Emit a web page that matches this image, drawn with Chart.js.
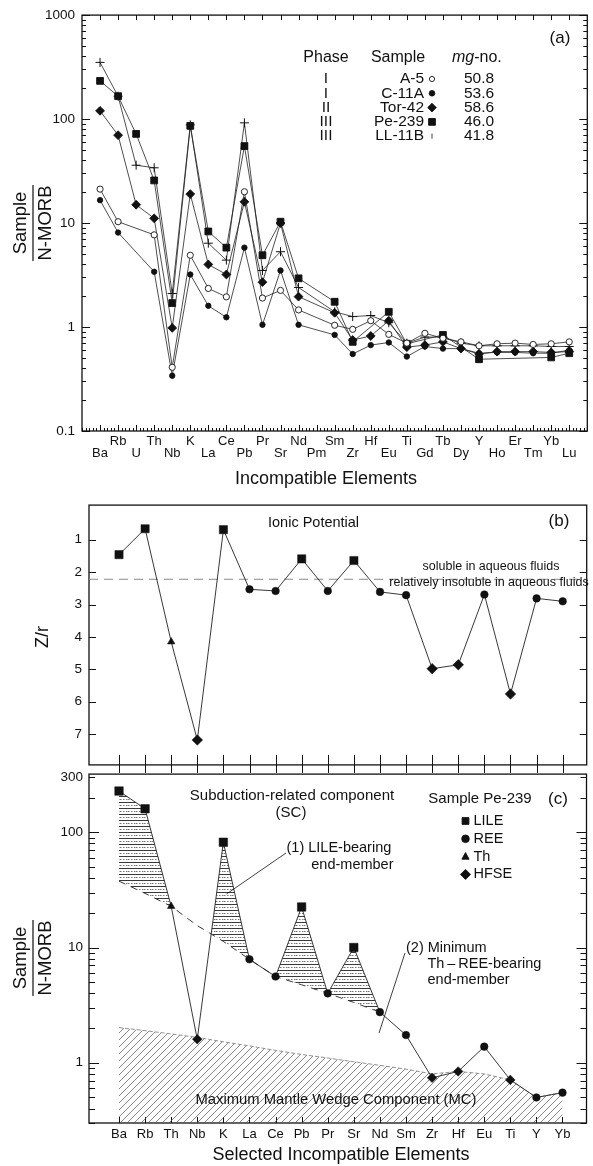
<!DOCTYPE html>
<html>
<head>
    <title>Incompatible Element Patterns</title>
    <script src="https://cdn.jsdelivr.net/npm/chart.js"></script>
    <style>
        body { margin: 0; background: #fff; }
        #page { position: relative; width: 593px; height: 1166px; overflow: hidden; }
        canvas { position: absolute; left: 0; }
    </style>
</head>
<body>
<div id="page">
    <canvas id="chartA" width="593" height="492" style="top:0"></canvas>
    <canvas id="chartB" width="593" height="290" style="top:490px"></canvas>
    <canvas id="chartC" width="593" height="406" style="top:760px"></canvas>
</div>

<script>
    // ---- panel (a): N-MORB normalised spidergram, five samples ----
    const elementsA = ['Ba', 'Rb', 'U', 'Th', 'Nb', 'K', 'La', 'Ce', 'Pb', 'Pr', 'Sr', 'Nd', 'Pm', 'Sm',
        'Zr', 'Hf', 'Eu', 'Ti', 'Gd', 'Tb', 'Dy', 'Y', 'Ho', 'Er', 'Tm', 'Yb', 'Lu'];
    const sampleA5 = [21.2, 10.3, null, 7.7, 0.41, 4.9, 2.35, 1.95, 20, 1.9, 2.25, 1.46, null, 1.04,
        0.95, 1.15, 0.85, 0.70, 0.87, 0.78, 0.72, 0.66, 0.69, 0.70, 0.68, 0.69, 0.72];
    const sampleC11A = [16.6, 8.1, null, 3.4, 0.34, 3.2, 1.6, 1.24, 5.8, 1.05, 3.5, 1.05, null, 0.84,
        0.55, 0.67, 0.71, 0.52, 0.65, 0.62, 0.62, 0.56, 0.57, 0.57, 0.56, 0.56, 0.60];
    const sampleTor42 = [120, 70, 15, 11.1, 0.98, 19, 4.0, 3.2, 16, 2.7, 10, 1.96, null, 1.37,
        0.75, 0.82, 1.15, 0.64, 0.67, 0.72, 0.62, 0.55, 0.58, 0.58, 0.58, 0.57, 0.58];
    const samplePe239 = [233, 166, 72, 25.7, 1.7, 86, 8.3, 5.8, 55, 4.9, 10.3, 2.94, null, 1.75,
        0.72, null, 1.40, 0.69, null, 0.84, null, 0.49, null, null, null, 0.51, 0.56];
    const sampleLL11B = [351, 166, 36, 34, 2.1, 88, 6.4, 4.4, 92, 3.5, 5.3, 2.4, null, 1.4,
        1.26, 1.29, 1.1, 0.70, 0.80, 0.80, 0.70, 0.66, 0.66, 0.66, 0.66, 0.65, 0.65];
    const phases = ['I', 'I', 'II', 'III', 'III'];
    const sampleNames = ['A-5', 'C-11A', 'Tor-42', 'Pe-239', 'LL-11B'];
    const mgNumbers = ['50.8', '53.6', '58.6', '46.0', '41.8'];
    const yTicksA = [0.1, 1, 10, 100, 1000];

    // ---- panels (b) and (c): selected elements of sample Pe-239 ----
    const elementsBC = ['Ba', 'Rb', 'Th', 'Nb', 'K', 'La', 'Ce', 'Pb', 'Pr', 'Sr', 'Nd', 'Sm',
        'Zr', 'Hf', 'Eu', 'Ti', 'Y', 'Yb'];
    const groupsBC = ['LILE', 'LILE', 'Th', 'HFSE', 'LILE', 'REE', 'REE', 'LILE', 'REE', 'LILE', 'REE', 'REE',
        'HFSE', 'HFSE', 'REE', 'HFSE', 'REE', 'REE'];
    const ionicPotential = [1.46, 0.66, 4.15, 7.18, 0.69, 2.53, 2.58, 1.59, 2.58, 1.64, 2.61, 2.71,
        4.98, 4.86, 2.69, 5.76, 2.81, 2.90];
    const fluidBoundary = 2.22;
    const yTicksB = [1, 2, 3, 4, 5, 6, 7];

    const pe239Selected = [228, 160, 22.8, 1.6, 82, 7.9, 5.6, 22.5, 4.0, 10.0, 2.75, 1.74,
        0.74, 0.84, 1.38, 0.71, 0.50, 0.55];
    const thReeBaseline = [37.7, 29.5, 22.8, 15.5, 11.3, 7.9, 5.6, 4.75, 4.0, 3.34, 2.75];
    const mantleWedgeTop = [2.02, 1.9, 1.78, 1.66, 1.52, 1.4, 1.28, 1.18, 1.1, 1.02, 0.95, 0.88,
        0.8, 0.84, 0.8, 0.71, 0.50, 0.55];
    const yTicksC = [1, 10, 100, 300];

    const FONT = '"Liberation Sans", Arial, Helvetica, sans-serif';
    const INK = '#111';
    Chart.defaults.font.family = FONT;
    Chart.defaults.color = INK;

    const toPoints = vals => vals.map((v, i) => ({ x: i, y: v }));

    function logMarks(min, max) {
        const out = [];
        for (let e = Math.floor(Math.log10(min)); e <= Math.ceil(Math.log10(max)); e++) {
            for (let m = 1; m < 10; m++) {
                const v = m * Math.pow(10, e);
                if (v >= min * 0.999 && v <= max * 1.001) out.push({ v, major: m === 1 });
            }
        }
        return out;
    }

    function text(ctx, str, x, y, size, align, italic) {
        ctx.font = (italic ? 'italic ' : '') + size + 'px ' + FONT;
        ctx.textAlign = align || 'left';
        ctx.textBaseline = 'middle';
        ctx.fillText(str, x, y);
    }

    function marker(ctx, style, x, y, r, filled) {
        ctx.save();
        ctx.beginPath();
        if (style === 'circle') ctx.arc(x, y, r, 0, 2 * Math.PI);
        else if (style === 'rect') ctx.rect(x - r, y - r, 2 * r, 2 * r);
        else if (style === 'diamond') {
            ctx.moveTo(x, y - r); ctx.lineTo(x + r, y); ctx.lineTo(x, y + r); ctx.lineTo(x - r, y); ctx.closePath();
        } else if (style === 'triangle') {
            ctx.moveTo(x, y - r); ctx.lineTo(x + r * 0.9, y + r * 0.65); ctx.lineTo(x - r * 0.9, y + r * 0.65); ctx.closePath();
        } else if (style === 'bar') {
            ctx.moveTo(x, y - r); ctx.lineTo(x, y + r);
            ctx.strokeStyle = INK; ctx.lineWidth = 0.8; ctx.stroke();
            ctx.restore();
            return;
        }
        ctx.fillStyle = filled ? INK : '#fff';
        ctx.fill();
        ctx.strokeStyle = INK; ctx.lineWidth = 0.9;
        ctx.stroke();
        ctx.restore();
    }

    function fraction(ctx, cx, cy, size) {
        ctx.save();
        ctx.translate(cx, cy);
        ctx.rotate(-Math.PI / 2);
        ctx.font = size + 'px ' + FONT;
        ctx.textAlign = 'center';
        ctx.textBaseline = 'alphabetic';
        ctx.fillStyle = INK;
        ctx.fillText('Sample', 0, -7);
        ctx.fillText('N-MORB', 0, 18);
        ctx.fillRect(-38, -0.6, 76, 1.2);
        ctx.restore();
    }

    function hatch(kind) {
        const c = document.createElement('canvas');
        const g = c.getContext('2d');
        if (kind === 'horizontal') {
            c.width = 8; c.height = 6;
            g.strokeStyle = '#222'; g.lineWidth = 0.9;
            g.beginPath(); g.moveTo(0, 0.5); g.lineTo(8, 0.5); g.stroke();
            g.strokeStyle = '#666'; g.setLineDash([1.5, 1.5]);
            g.beginPath(); g.moveTo(0, 3.5); g.lineTo(8, 3.5); g.stroke();
        } else {
            c.width = 7; c.height = 7;
            g.strokeStyle = '#555'; g.lineWidth = 0.7;
            g.beginPath();
            g.moveTo(0, 7); g.lineTo(7, 0);
            g.moveTo(-1, 1); g.lineTo(1, -1);
            g.moveTo(6, 8); g.lineTo(8, 6);
            g.stroke();
        }
        return g.createPattern(c, 'repeat');
    }

    const noGrid = { grid: { display: false, drawTicks: false, tickLength: 0 }, border: { display: false } };
    const categoryTicks = list => scale => { scale.ticks = list.map((_, i) => ({ value: i })); };
    const fixedTicks = list => scale => { scale.ticks = list.map(v => ({ value: v })); };
    const baseOptions = {
        responsive: false,
        animation: false,
        events: [],
        plugins: { legend: { display: false }, tooltip: { enabled: false } },
        elements: { line: { tension: 0 } }
    };

    // ================= panel (a) =================
    const seriesA = [
        { label: 'A-5', values: sampleA5, style: 'circle', radius: 3.1, fill: '#fff' },
        { label: 'C-11A', values: sampleC11A, style: 'circle', radius: 2.7, fill: INK },
        { label: 'Tor-42', values: sampleTor42, style: 'rectRot', radius: 4.4, fill: INK },
        { label: 'Pe-239', values: samplePe239, style: 'rect', radius: 4.8, fill: INK },
        { label: 'LL-11B', values: sampleLL11B, style: 'cross', radius: 4.5, fill: INK }
    ];

    const frameA = {
        id: 'frameA',
        beforeDatasetsDraw(chart) {
            const { ctx, chartArea: a, scales: { x, y } } = chart;
            ctx.save();
            ctx.strokeStyle = INK;
            ctx.lineWidth = 1;
            ctx.beginPath();
            elementsA.forEach((e, i) => {
                const px = Math.round(x.getPixelForValue(i)) + 0.5;
                ctx.moveTo(px, a.bottom); ctx.lineTo(px, a.bottom - 6);
                ctx.moveTo(px, a.top); ctx.lineTo(px, a.top + 5);
            });
            for (let k = 0; k <= (x.max - x.min) * 5; k++) {
                const px = Math.round(x.getPixelForValue(x.min + k / 5)) + 0.5;
                ctx.moveTo(px, a.bottom); ctx.lineTo(px, a.bottom - 3);
            }
            logMarks(y.min, y.max).forEach(t => {
                const py = Math.round(y.getPixelForValue(t.v)) + 0.5;
                const len = t.major ? 8 : 4;
                ctx.moveTo(a.left, py); ctx.lineTo(a.left + len, py);
                ctx.moveTo(a.right, py); ctx.lineTo(a.right - len, py);
            });
            ctx.stroke();
            ctx.lineWidth = 1.3;
            ctx.strokeRect(a.left, a.top, a.right - a.left, a.bottom - a.top);
            ctx.restore();
        },
        afterDraw(chart) {
            const ctx = chart.ctx;
            ctx.save();
            ctx.fillStyle = INK;
            text(ctx, '(a)', 560, 38, 17, 'center');
            text(ctx, 'Phase', 326, 58, 16, 'center');
            text(ctx, 'Sample', 398, 58, 16, 'center');
            text(ctx, 'mg', 452, 58, 16, 'left', true);
            const w = ctx.measureText('mg').width;
            text(ctx, '-no.', 452 + w, 58, 16, 'left');
            const legendStyles = ['circle', 'circle', 'diamond', 'rect', 'bar'];
            const legendSizes = [2.6, 2.8, 4.3, 3.4, 2.6];
            sampleNames.forEach((name, i) => {
                const ry = 79 + i * 14.3;
                ctx.fillStyle = INK;
                text(ctx, phases[i], 326, ry, 15.5, 'center');
                text(ctx, name, 424, ry, 15.5, 'right');
                text(ctx, mgNumbers[i], 479, ry, 15.5, 'center');
                marker(ctx, legendStyles[i], 432, ry, legendSizes[i], i !== 0);
            });
            ctx.fillStyle = INK;
            text(ctx, 'Incompatible Elements', 326, 479, 18, 'center');
            fraction(ctx, 33, 223, 18.5);
            ctx.restore();
        }
    };

    new Chart(document.getElementById('chartA'), {
        type: 'line',
        data: {
            datasets: seriesA.map(s => ({
                label: s.label,
                data: toPoints(s.values),
                spanGaps: true,
                borderColor: '#222',
                borderWidth: 0.8,
                pointStyle: s.style,
                pointRadius: s.radius,
                pointBackgroundColor: s.fill,
                pointBorderColor: INK,
                pointBorderWidth: s.style === 'cross' ? 1 : 0.9
            }))
        },
        options: {
            ...baseOptions,
            layout: { padding: { top: 15, right: 4, left: 0, bottom: 0 } },
            scales: {
                x: {
                    type: 'linear', min: -1, max: 27, bounds: 'data', ...noGrid,
                    afterBuildTicks: categoryTicks(elementsA),
                    afterFit: s => { s.height = 61; },
                    ticks: {
                        autoSkip: false, maxRotation: 0, minRotation: 0, padding: 4,
                        font: { size: 13, lineHeight: 0.95 },
                        callback: v => (v % 2 === 0 ? ['', elementsA[v]] : [elementsA[v], ''])
                    }
                },
                y: {
                    type: 'logarithmic', min: 0.1, max: 1000, bounds: 'data', ...noGrid,
                    afterBuildTicks: fixedTicks(yTicksA),
                    afterFit: s => { s.width = 82; },
                    ticks: { padding: 7, font: { size: 13.5 }, callback: v => String(v) }
                }
            }
        },
        plugins: [frameA]
    });

    // ================= panel (b) =================
    const styleOf = { LILE: 'rect', REE: 'circle', Th: 'triangle', HFSE: 'rectRot' };
    const radiusB = { LILE: 5.8, REE: 3.8, Th: 4.3, HFSE: 5.3 };
    const xMinBC = -1.15, xMaxBC = 17.92;

    const frameB = {
        id: 'frameB',
        beforeDatasetsDraw(chart) {
            const { ctx, chartArea: a, scales: { x, y } } = chart;
            ctx.save();
            ctx.strokeStyle = INK;
            ctx.lineWidth = 1;
            ctx.beginPath();
            yTicksB.forEach(v => {
                const py = Math.round(y.getPixelForValue(v)) + 0.5;
                ctx.moveTo(a.left, py); ctx.lineTo(a.left + 7, py);
                ctx.moveTo(a.right, py); ctx.lineTo(a.right - 7, py);
            });
            elementsBC.forEach((e, i) => {
                const px = Math.round(x.getPixelForValue(i)) + 0.5;
                ctx.moveTo(px, a.bottom - 10); ctx.lineTo(px, a.bottom + 8);
            });
            ctx.stroke();
            ctx.lineWidth = 1.3;
            ctx.strokeRect(a.left, a.top, a.right - a.left, a.bottom - a.top);
            ctx.restore();
        },
        afterDraw(chart) {
            const ctx = chart.ctx;
            ctx.save();
            ctx.fillStyle = INK;
            text(ctx, 'Ionic Potential', 268, 33, 14.5, 'left');
            text(ctx, '(b)', 559, 31, 17, 'center');
            text(ctx, 'soluble in aqueous fluids', 491, 77, 12.5, 'center');
            text(ctx, 'relatively insoluble in aqueous fluids', 489, 93, 12.5, 'center');
            ctx.save();
            ctx.translate(43, 147);
            ctx.rotate(-Math.PI / 2);
            text(ctx, 'Z/r', 0, 0, 18, 'center');
            ctx.restore();
            ctx.restore();
        }
    };

    new Chart(document.getElementById('chartB'), {
        type: 'line',
        data: {
            datasets: [
                {
                    label: 'Z/r',
                    data: toPoints(ionicPotential),
                    borderColor: '#222',
                    borderWidth: 0.9,
                    pointStyle: groupsBC.map(g => styleOf[g]),
                    pointRadius: groupsBC.map(g => radiusB[g]),
                    pointBackgroundColor: INK,
                    pointBorderColor: INK,
                    pointBorderWidth: 0.5
                },
                {
                    label: 'fluid boundary',
                    data: [{ x: xMinBC, y: fluidBoundary }, { x: xMaxBC, y: fluidBoundary }],
                    borderColor: '#8a8a8a',
                    borderWidth: 1.1,
                    borderDash: [9, 6],
                    pointRadius: 0
                }
            ]
        },
        options: {
            ...baseOptions,
            layout: { padding: { top: 8, right: 3, left: 0, bottom: 8 } },
            scales: {
                x: { type: 'linear', min: xMinBC, max: xMaxBC, bounds: 'data', display: false },
                y: {
                    type: 'linear', reverse: true, min: -0.07, max: 7.95, bounds: 'data', ...noGrid,
                    afterBuildTicks: fixedTicks(yTicksB),
                    afterFit: s => { s.width = 89; },
                    ticks: { padding: 7, font: { size: 13.5 }, callback: v => String(v) }
                }
            }
        },
        plugins: [frameB]
    });

    // ================= panel (c) =================
    const radiusC = { LILE: 6, REE: 3.8, Th: 4.4, HFSE: 4.8 };

    const frameC = {
        id: 'frameC',
        beforeDatasetsDraw(chart) {
            const { ctx, chartArea: a, scales: { x, y } } = chart;
            ctx.save();
            ctx.strokeStyle = INK;
            ctx.lineWidth = 1;
            ctx.beginPath();
            logMarks(y.min, y.max).forEach(t => {
                const py = Math.round(y.getPixelForValue(t.v)) + 0.5;
                const len = t.major ? 10 : 6;
                ctx.moveTo(a.left, py); ctx.lineTo(a.left + len, py);
                ctx.moveTo(a.right, py); ctx.lineTo(a.right - len, py);
            });
            elementsBC.forEach((e, i) => {
                const px = Math.round(x.getPixelForValue(i)) + 0.5;
                ctx.moveTo(px, a.bottom); ctx.lineTo(px, a.bottom - 6);
            });
            ctx.stroke();
            ctx.lineWidth = 1.3;
            ctx.strokeRect(a.left, a.top, a.right - a.left, a.bottom - a.top);
            ctx.restore();
        },
        afterDraw(chart) {
            const ctx = chart.ctx;
            ctx.save();
            ctx.fillStyle = INK;
            text(ctx, 'Subduction-related component', 292, 36, 15, 'center');
            text(ctx, '(SC)', 291, 53, 15, 'center');
            text(ctx, 'Sample Pe-239', 480, 39, 15, 'center');
            text(ctx, '(c)', 558, 39, 17, 'center');
            const legendRows = [['LILE', 'rect', 3.4], ['REE', 'circle', 3.8], ['Th', 'triangle', 4], ['HFSE', 'diamond', 5]];
            legendRows.forEach((r, i) => {
                const ry = 61 + i * 17.8;
                marker(ctx, r[1], 465.5, ry, r[2], true);
                ctx.fillStyle = INK;
                text(ctx, r[0], 473.5, ry, 14.5, 'left');
            });
            text(ctx, '(1) LILE-bearing', 286.5, 88, 14.5, 'left');
            text(ctx, 'end-member', 393.5, 105, 14.5, 'right');
            text(ctx, '(2) Minimum', 406, 188, 14.5, 'left');
            text(ctx, 'Th\u2009\u2013\u2009REE-bearing', 427.5, 204, 14.5, 'left');
            text(ctx, 'end-member', 427.5, 220, 14.5, 'left');
            text(ctx, 'Maximum Mantle Wedge Component (MC)', 336, 340, 14.8, 'center');
            ctx.strokeStyle = INK;
            ctx.lineWidth = 0.8;
            ctx.beginPath();
            ctx.moveTo(286, 93); ctx.lineTo(226.5, 134);
            ctx.moveTo(405, 193); ctx.lineTo(379, 273);
            ctx.stroke();
            ctx.fillStyle = INK;
            text(ctx, 'Selected Incompatible Elements', 341, 395, 18, 'center');
            fraction(ctx, 33, 198, 18.5);
            ctx.restore();
        }
    };

    new Chart(document.getElementById('chartC'), {
        type: 'line',
        data: {
            datasets: [
                {
                    label: 'MC',
                    order: 2,
                    data: toPoints(mantleWedgeTop),
                    borderColor: '#777',
                    borderWidth: 0.8,
                    borderDash: [4, 2],
                    pointRadius: 0,
                    fill: 'start',
                    backgroundColor: hatch('diagonal')
                },
                {
                    label: 'Th-REE baseline',
                    order: 1,
                    data: toPoints(thReeBaseline),
                    borderColor: '#222',
                    borderWidth: 0.9,
                    borderDash: [7, 6],
                    pointRadius: 0,
                    fill: false
                },
                {
                    label: 'Pe-239',
                    order: 0,
                    data: toPoints(pe239Selected),
                    borderColor: '#222',
                    borderWidth: 0.9,
                    fill: { target: 1, above: hatch('horizontal'), below: 'rgba(0,0,0,0)' },
                    pointStyle: groupsBC.map(g => styleOf[g]),
                    pointRadius: groupsBC.map(g => radiusC[g]),
                    pointBackgroundColor: INK,
                    pointBorderColor: INK,
                    pointBorderWidth: 0.5
                }
            ]
        },
        options: {
            ...baseOptions,
            layout: { padding: { top: 12, right: 3, left: 0, bottom: 0 } },
            scales: {
                x: {
                    type: 'linear', min: xMinBC, max: xMaxBC, bounds: 'data', ...noGrid,
                    afterBuildTicks: categoryTicks(elementsBC),
                    afterFit: s => { s.height = 43; },
                    ticks: {
                        autoSkip: false, maxRotation: 0, minRotation: 0, padding: 4,
                        font: { size: 13 },
                        callback: v => elementsBC[v]
                    }
                },
                y: {
                    type: 'logarithmic', min: 0.3, max: 320, bounds: 'data', ...noGrid,
                    afterBuildTicks: fixedTicks(yTicksC),
                    afterFit: s => { s.width = 89; },
                    ticks: { padding: 6, font: { size: 13.5 }, callback: v => String(v) }
                }
            }
        },
        plugins: [frameC]
    });
</script>
</body>
</html>
